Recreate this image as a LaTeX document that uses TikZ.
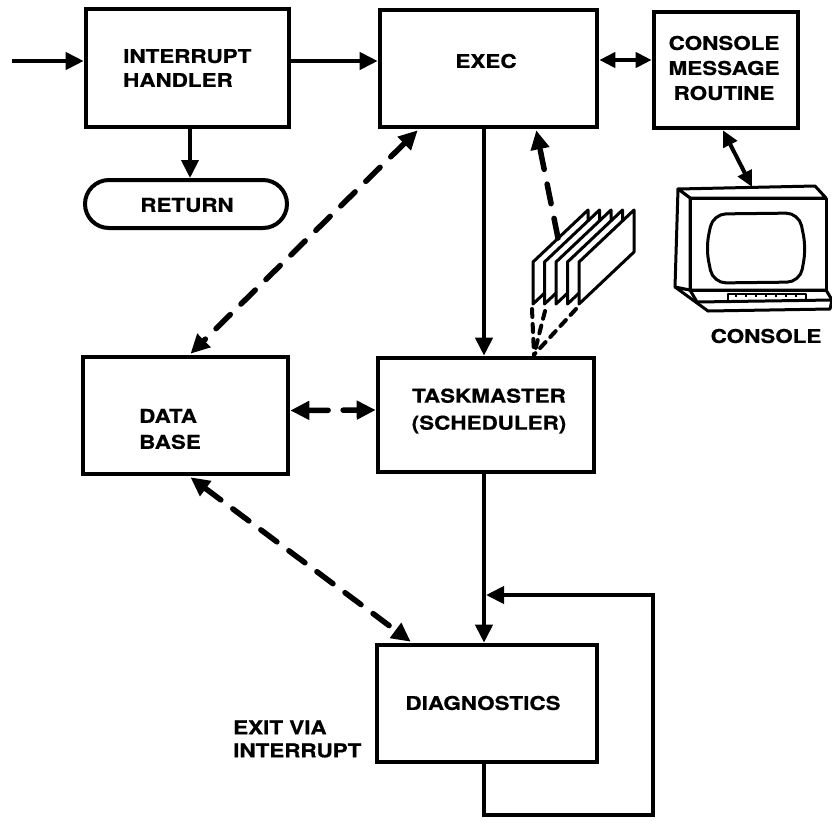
\documentclass[tikz,border=0pt]{standalone}
\usepackage{fontspec}
\setmainfont{TeX Gyre Heros}[FakeStretch=1.18,BoldFeatures={FakeBold=0.6}]
\usetikzlibrary{arrows.meta,calc}
\begin{document}
\begin{tikzpicture}[x=1pt,y=-1pt,
  box/.style={draw,line width=4.6pt,inner sep=0pt},
  txt/.style={font=\bfseries\fontsize{19}{24}\selectfont,inner sep=0pt,align=center},
  arr/.style={line width=4pt,-{Triangle[length=18pt,width=17pt]}},
  darr/.style={line width=4pt,{Triangle[length=16pt,width=15pt]}-{Triangle[length=16pt,width=15pt]}},
  dsh/.style={line width=5.5pt,dash pattern=on 20pt off 15pt,line cap=round},
  dshb/.style={dsh,{Triangle[length=19pt,width=18pt]}-{Triangle[length=19pt,width=18pt]}},
  dsho/.style={dsh,-{Triangle[length=19pt,width=18pt]}},
  dots/.style={line width=4pt,dash pattern=on 8pt off 7pt,line cap=round},
  pic/.style={line width=3pt,line join=round}]
\useasboundingbox (0,0) rectangle (832,820);
\fill[white] (0,0) rectangle (832,820);

% ---- processing blocks ----
\node[box,minimum width=203pt,minimum height=118pt] (ih) at (187.5,68) {};
\node[txt,align=left,anchor=west] (ihT) at (123,68) {INTERRUPT\\HANDLER};

\node[box,minimum width=217pt,minimum height=117pt] (exec) at (488.5,68.5) {};
\node[txt] (execT) at (486,61) {EXEC};

\node[box,minimum width=144pt,minimum height=116pt] (cmr) at (726,70) {};
\node[txt,font=\bfseries\fontsize{19}{25}\selectfont] (cmrT) at (724,68) {CONSOLE\\MESSAGE\\ROUTINE};

\node[box,line width=4pt,minimum width=202pt,minimum height=48pt,rounded corners=24pt] (ret) at (186,204) {};
\node[txt] (retT) at (187,205) {RETURN};

\node[box,minimum width=205pt,minimum height=117pt] (db) at (185.5,415.5) {};
\node[txt,align=left,anchor=west,font=\bfseries\fontsize{19}{26}\selectfont] (dbT) at (139,429) {DATA\\BASE};

\node[box,minimum width=216pt,minimum height=114pt] (tm) at (486,415) {};
\node[txt,font=\bfseries\fontsize{19}{27}\selectfont] (tmT) at (489,411) {TASKMASTER\\(SCHEDULER)};

\node[box,minimum width=220pt,minimum height=117pt] (diag) at (487,703.5) {};
\node[txt] (diagT) at (483,703) {DIAGNOSTICS};

\node[txt,align=left,anchor=west,font=\bfseries\fontsize{19}{23}\selectfont] (exitT) at (233,739) {EXIT VIA\\INTERRUPT};

% ---- card deck ----
\foreach \i in {0,...,4}{
  \pgfmathsetmacro\cx{533+11.5*\i}
  \filldraw[pic,fill=white] (\cx,304) -- (\cx,262) -- (\cx+55,210) -- (\cx+55,252) -- cycle;
}
\coordinate (deckTop) at (558,238);
\coordinate (deckB0) at (532,309);
\coordinate (deckB1) at (545,311);
\coordinate (deckB4) at (576,309);

% ---- console terminal ----
\filldraw[pic,fill=white] (675,287) -- (708,311) -- (830,309) -- (832,300) -- (826,290) -- (690,290) -- cycle;
\draw[pic] (690,290) -- (697,302) -- (832,300);
\filldraw[pic,fill=white] (690,198) -- (678,189) -- (815,186) -- (826,198) -- cycle;
\filldraw[pic,fill=white] (678,189) -- (690,198) -- (690,290) -- (675,287) -- cycle;
\draw[pic] (690,198) rectangle (826,290);
\draw[pic,rounded corners=13pt] (713,214) -- (799,213) -- (806,248) -- (800,282) -- (713,283) -- (706,248) -- cycle;
\draw[pic,line width=2.2pt] (728,294) rectangle (806,301);
\foreach \k in {736,746,...,800}{\draw[line width=1.6pt] (\k,294) -- (\k,297);}
\coordinate (conTop) at (752,187);
\node[txt] (conT) at (766,336) {CONSOLE};

% ---- control flow ----
\coordinate (inp) at (12,61);
\coordinate (spine) at (484,0);
\draw[arr] (inp) -- (inp -| ih.west);
\draw[arr] (ih.east |- inp) -- (exec.west |- inp);
\draw[darr] ([yshift=8.5pt]exec.east) -- ([yshift=10pt]cmr.west);
\draw[arr] ([xshift=2.5pt]ih.south) -- ([xshift=4pt]ret.north);
\draw[arr] (exec.south -| spine) -- (tm.north -| spine);
\draw[arr] (tm.south -| spine) -- (diag.north -| spine);
\draw[darr] ([xshift=-3pt]cmr.south) -- (conTop);

% diagnostic loop
\coordinate (lpBot) at (653,815);
\coordinate (lpTop) at (653,595);
\draw[arr,shorten >=2pt,line join=miter] (diag.south -| spine) |- (lpBot) -- (lpTop) -- (lpTop -| spine);

% ---- data paths ----
\draw[dshb] ($(exec.south west)+(40,1)$) -- ($(db.north)+(5,-1)$);
\draw[dshb] ($(db.east)+(0,-5)$) -- ($(tm.west)+(0,-5)$);
\draw[dshb] ($(db.south)+(5,1)$) -- ($(diag.north west)+(36,-1)$);
\draw[dsho] (deckTop) -- ($(exec.south east)+(-63,1)$);
\coordinate (tmIn) at ($(tm.north)+(48,-1)$);
\draw[dots] (deckB0) -- (tmIn);
\draw[dots] (deckB1) -- (tmIn);
\draw[dots] (deckB4) -- (tmIn);
\end{tikzpicture}
\end{document}
